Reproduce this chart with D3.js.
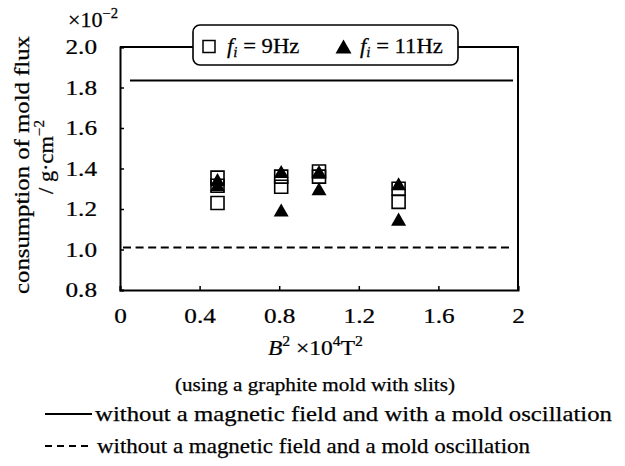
<!DOCTYPE html>
<html>
<head>
<meta charset="utf-8">
<script src="https://cdn.jsdelivr.net/npm/d3@7"></script>
<style>
body{margin:0;background:#fff;}
svg{display:block;font-family:"Liberation Serif","Times New Roman",serif;}
text{stroke:#000;stroke-width:0.25;}
</style>
</head>
<body>
<div class="container"></div>
<script>
// data
var yTicks=[0.8,1.0,1.2,1.4,1.6,1.8,2.0];
var xTicks=[0,0.4,0.8,1.2,1.6,2];
var b2_9Hz=[0.49,0.49,0.49,0.81,0.81,1.0,1.0,1.4,1.4];
var flux_9Hz=[1.355,1.315,1.23,1.36,1.31,1.385,1.36,1.30,1.235];
var b2_11Hz=[0.49,0.49,0.81,0.81,1.0,1.0,1.4,1.4];
var flux_11Hz=[1.345,1.32,1.385,1.195,1.385,1.30,1.325,1.15];
var refOscX=[0.05,1.975], refOscY=1.835;   // without field, with oscillation
var refNoX=[0.015,1.97], refNoY=1.01;      // without field and oscillation

var width=625, height=466;
var margin={left:120,right:107,top:47,bottom:176};
var sx=1.2; // glyphs in the scan are wider than Liberation Serif

var svg=d3.select(".container").append("svg").attr("width",width).attr("height",height);

var x=d3.scaleLinear().domain([0,2]).range([margin.left,width-margin.right]);
var y=d3.scaleLinear().domain([0.8,2.0]).range([height-margin.bottom,margin.top]);

var xAxis=d3.axisBottom(x).tickValues(xTicks).tickSize(-4).tickPadding(18).tickFormat(d3.format("~g"));
var yAxis=d3.axisLeft(y).tickValues(yTicks).tickSize(-4).tickPadding(23).tickFormat(d3.format(".1f"));

var gx=svg.append("g").attr("transform","translate(0,"+y(0.8)+")").call(xAxis);
var gy=svg.append("g").attr("transform","translate("+x(0)+",0)").call(yAxis);
[gx,gy].forEach(function(g){
    g.select(".domain").attr("stroke","#000").attr("stroke-width",2);
    g.selectAll(".tick line").attr("stroke","#000").attr("stroke-width",1.5);
    g.selectAll(".tick text").attr("fill","#000").attr("font-size",21).attr("font-family","Liberation Serif")
        .attr("transform","scale("+sx+",1)");
});
gy.selectAll(".tick text").attr("x",-23/sx);

// legend box position
var legX0=193, legX1=458, legY0=25, legY1=65;

// frame: top (broken by legend) and right
svg.append("path")
    .attr("d","M"+x(0)+","+y(2)+"H"+legX0+"M"+legX1+","+y(2)+"H"+x(2)+"V"+y(0.8))
    .attr("fill","none").attr("stroke","#000").attr("stroke-width",2);

// reference lines
svg.append("line").attr("x1",x(refOscX[0])).attr("x2",x(refOscX[1]))
    .attr("y1",y(refOscY)).attr("y2",y(refOscY))
    .attr("stroke","#000").attr("stroke-width",2);
svg.append("line").attr("x1",x(refNoX[0])).attr("x2",x(refNoX[1]))
    .attr("y1",y(refNoY)).attr("y2",y(refNoY))
    .attr("stroke","#000").attr("stroke-width",2).attr("stroke-dasharray","8,4.6");

// triangle centred at mid-height
var triMid={draw:function(ctx,size){
    var w=size, h=size*0.87;
    ctx.moveTo(0,-h/2); ctx.lineTo(w/2,h/2); ctx.lineTo(-w/2,h/2); ctx.closePath();
}};
var sq=d3.symbol().type(d3.symbolSquare).size(13*13);
var tri=d3.symbol().type(triMid).size(15);

svg.append("g").selectAll("path")
    .data(d3.zip(b2_9Hz,flux_9Hz))
    .enter().append("path")
    .attr("d",sq)
    .attr("transform",function(d){return "translate("+x(d[0])+","+y(d[1])+")";})
    .attr("fill","none").attr("stroke","#000").attr("stroke-width",1.6);

svg.append("g").selectAll("path")
    .data(d3.zip(b2_11Hz,flux_11Hz))
    .enter().append("path")
    .attr("d",tri)
    .attr("transform",function(d){return "translate("+x(d[0])+","+y(d[1])+")";})
    .attr("fill","#000");

// legend
svg.append("rect").attr("x",legX0).attr("y",legY0).attr("width",legX1-legX0).attr("height",legY1-legY0)
    .attr("rx",7).attr("fill","#fff").attr("stroke","#000").attr("stroke-width",1.6);
svg.append("path").attr("d",sq.size(12*12)).attr("transform","translate(209,46.5)")
    .attr("fill","none").attr("stroke","#000").attr("stroke-width",1.5);
svg.append("path").attr("d",tri.size(16)).attr("transform","translate(343.5,46.5)").attr("fill","#000");

// text placed at (xp,yp) and stretched horizontally
function stretched(xp,yp,k){
    return svg.append("g").attr("transform","translate("+xp+","+yp+") scale("+k+",1)")
        .append("text").attr("font-size",21);
}
function fLabel(xp,val){
    var t=stretched(xp,53,1.08);
    t.append("tspan").attr("font-style","italic").text("f");
    t.append("tspan").attr("font-style","italic").attr("font-size",14).attr("dy",4).text("i");
    t.append("tspan").attr("dy",-4).text(" = "+val);
}
fLabel(227,"9Hz");
fLabel(360,"11Hz");

// y multiplier
var mult=stretched(68,27,1.05);
mult.append("tspan").text("\u00d710");
mult.append("tspan").attr("font-size",14).attr("dy",-9).text("\u22122");

// y title
svg.append("text").attr("transform","translate(29,165) rotate(-90)")
    .attr("text-anchor","middle").attr("font-size",21)
    .attr("textLength",258).attr("lengthAdjust","spacingAndGlyphs")
    .text("consumption of mold flux");
var yt2=svg.append("g").attr("transform","translate(53,157) rotate(-90) scale(1.07,1)")
    .append("text").attr("text-anchor","middle").attr("font-size",21);
yt2.append("tspan").text("/ g\u00b7cm");
yt2.append("tspan").attr("font-size",14).attr("dy",-9).text("\u22122");

// x title
var xt=stretched(268,355,1.12);
xt.append("tspan").attr("font-style","italic").text("B");
xt.append("tspan").attr("font-size",14).attr("dy",-9).text("2");
xt.append("tspan").attr("dy",9).text(" \u00d710");
xt.append("tspan").attr("font-size",14).attr("dy",-9).text("4");
xt.append("tspan").attr("dy",9).text("T");
xt.append("tspan").attr("font-size",14).attr("dy",-9).text("2");

// caption and line legend
svg.append("text").attr("x",175).attr("y",391).attr("font-size",18)
    .attr("textLength",280).attr("lengthAdjust","spacingAndGlyphs")
    .text("(using a graphite mold with slits)");
svg.append("line").attr("x1",45).attr("x2",92).attr("y1",414).attr("y2",414)
    .attr("stroke","#000").attr("stroke-width",2);
svg.append("text").attr("x",95).attr("y",421).attr("font-size",22)
    .attr("textLength",517).attr("lengthAdjust","spacingAndGlyphs")
    .text("without a magnetic field and with a mold oscillation");
svg.append("line").attr("x1",45).attr("x2",92).attr("y1",446).attr("y2",446)
    .attr("stroke","#000").attr("stroke-width",2).attr("stroke-dasharray","7,5");
svg.append("text").attr("x",97).attr("y",453).attr("font-size",22)
    .attr("textLength",433).attr("lengthAdjust","spacingAndGlyphs")
    .text("without a magnetic field and a mold oscillation");
</script>
</body>
</html>
